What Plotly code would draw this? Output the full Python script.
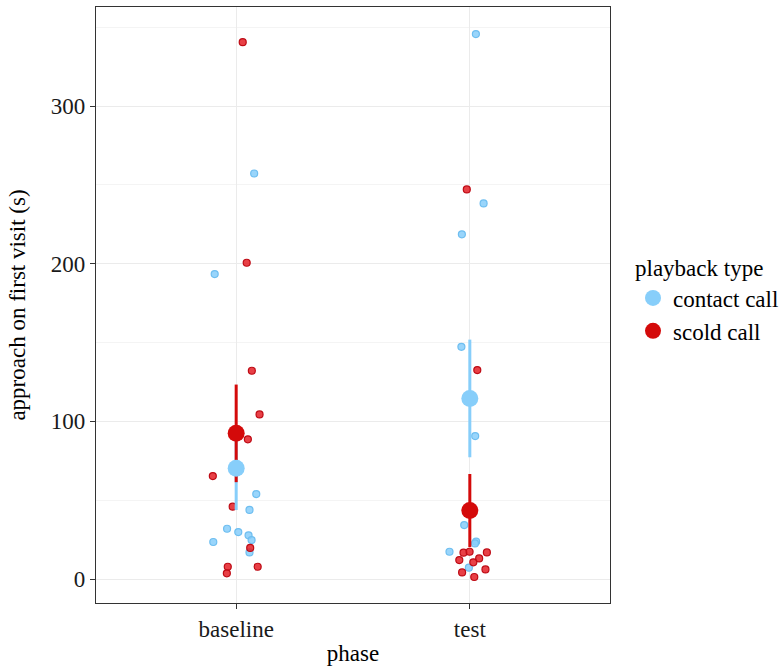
import numpy as np
import plotly.graph_objects as go

phases = ["baseline", "test"]
groups = ["contact call", "scold call"]
colors = {"contact call": "#87CEFA", "scold call": "#D40A0A"}
pt_fill = {"contact call": "rgba(135,206,250,0.85)", "scold call": "rgba(228,30,38,0.85)"}
pt_line = {"contact call": "rgba(110,190,240,1)", "scold call": "rgba(190,10,20,1)"}

# approach latency (s)
baseline_contact = [257.2, 193.4, 53.9, 43.8, 31.9, 29.8, 27.7, 24.7, 23.5, 16.9]
baseline_contact_jit = [0.077, -0.092, 0.086, 0.057, -0.039, 0.009, 0.053, 0.066, -0.098, 0.057]
baseline_scold = [340.5, 200.6, 132.1, 104.4, 88.6, 65.3, 45.9, 19.7, 7.8, 7.8, 3.6]
baseline_scold_jit = [0.028, 0.045, 0.067, 0.100, 0.050, -0.100, -0.015, 0.060, -0.036, 0.092, -0.040]
test_contact = [345.6, 238.2, 218.6, 147.3, 90.7, 34.2, 23.7, 22.6, 17.3, 7.2]
test_contact_jit = [0.026, 0.059, -0.034, -0.036, 0.023, -0.024, 0.027, 0.022, -0.087, -0.004]
test_scold = [247.1, 132.5, 16.7, 17.3, 16.9, 12.0, 13.1, 10.6, 4.2, 6.1, 1.3]
test_scold_jit = [-0.013, 0.032, -0.027, -0.001, 0.073, -0.045, 0.040, 0.015, -0.033, 0.067, 0.019]

data = {
    ("baseline", "contact call"): (baseline_contact, baseline_contact_jit),
    ("baseline", "scold call"): (baseline_scold, baseline_scold_jit),
    ("test", "contact call"): (test_contact, test_contact_jit),
    ("test", "scold call"): (test_scold, test_scold_jit),
}

FONT = "Liberation Serif, Times New Roman, serif"
fig = go.Figure()

# jittered raw points
for g in groups:
    xs, ys = [], []
    for i, p in enumerate(phases):
        vals, jit = data[(p, g)]
        xs += [i + j for j in jit]
        ys += vals
    fig.add_trace(go.Scatter(
        x=xs, y=ys, mode="markers", showlegend=False, hoverinfo="y",
        marker=dict(size=7, color=pt_fill[g], line=dict(color=pt_line[g], width=1.2)),
    ))

# mean +/- SE
stats = {}
for g in groups:
    m, lo, hi = [], [], []
    for p in phases:
        v = np.array(data[(p, g)][0])
        mean = v.mean()
        se = v.std(ddof=1) / np.sqrt(len(v))
        m.append(mean); lo.append(mean - se); hi.append(mean + se)
    stats[g] = (m, lo, hi)

for g in groups:
    m, lo, hi = stats[g]
    xs, ys = [], []
    for i in range(len(phases)):
        xs += [i, i, None]
        ys += [lo[i], hi[i], None]
    fig.add_trace(go.Scatter(x=xs, y=ys, mode="lines", showlegend=False, hoverinfo="skip",
                             line=dict(color=colors[g], width=3)))
for g in groups:
    m, lo, hi = stats[g]
    fig.add_trace(go.Scatter(x=list(range(len(phases))), y=m, mode="markers", name=g,
                             marker=dict(size=17, color=colors[g])))

axis_common = dict(showline=True, mirror=True, linecolor="#333333", linewidth=1.3,
                   ticks="outside", ticklen=5, tickcolor="#333333", gridcolor="#EBEBEB",
                   gridwidth=1, zeroline=False, automargin=False,
                   tickfont=dict(family=FONT, size=23, color="#1a1a1a"),
                   title_font=dict(family=FONT, size=23, color="#000"))

fig.update_xaxes(range=[-0.6, 1.6], tickvals=[0, 1], ticktext=phases,
                 title_text="phase", title_standoff=4, **axis_common)
fig.update_yaxes(range=[-15.2, 362.8], tickvals=[0, 100, 200, 300],
                 title_text="approach on first visit (s)", title_standoff=18,
                 minor=dict(tickvals=[50, 150, 250, 350], showgrid=True, gridcolor="#F4F4F4",
                            ticks=""),
                 **axis_common)

fig.update_layout(
    width=784, height=670,
    margin=dict(l=96, r=174, t=7, b=67),
    plot_bgcolor="white", paper_bgcolor="white",
    font=dict(family=FONT, size=23, color="#000"),
    legend=dict(title=dict(text="playback type", font=dict(family=FONT, size=23)),
                font=dict(family=FONT, size=23), xref="container", yref="container",
                x=0.8074, y=0.632, yanchor="top",
                xanchor="left", bgcolor="rgba(0,0,0,0)", tracegroupgap=0, itemwidth=30),
)

fig.write_html("out.html", config={"displayModeBar": False},
               post_script="document.body.style.margin='0';document.body.style.overflow='hidden';")
